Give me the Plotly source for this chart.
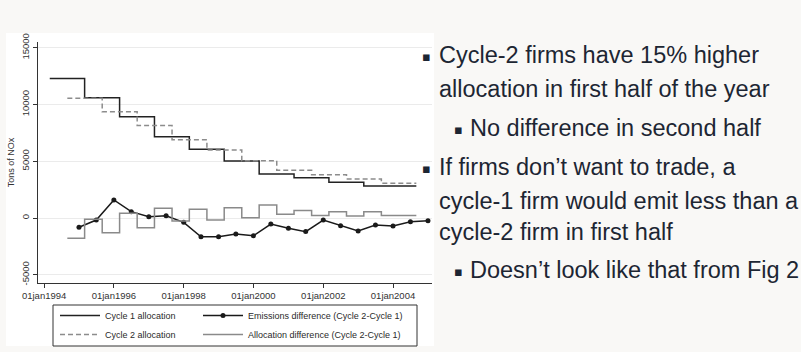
import plotly.graph_objects as go

# ---------------- data ----------------
c1_dates = ["1994-03-01", "1995-03-01", "1996-03-01", "1997-03-01", "1998-03-01",
            "1999-03-01", "2000-03-01", "2001-03-01", "2002-03-01", "2003-03-01", "2004-09-01"]
c1_alloc = [12300, 10600, 8930, 7160, 6050, 5020, 3880, 3550, 3140, 2820, 2820]

c2_dates = ["1994-09-01", "1995-09-01", "1996-09-01", "1997-09-01", "1998-09-01",
            "1999-09-01", "2000-09-01", "2001-09-01", "2002-09-01", "2003-09-01", "2004-09-01"]
c2_alloc = [10550, 9370, 8150, 6900, 6000, 5050, 4200, 3820, 3440, 3060, 3060]

ad_dates = ["1994-09-01", "1995-03-01", "1995-09-01", "1996-03-01", "1996-09-01",
            "1997-03-01", "1997-09-01", "1998-03-01", "1998-09-01", "1999-03-01",
            "1999-09-01", "2000-03-01", "2000-09-01", "2001-03-01", "2001-09-01",
            "2002-03-01", "2002-09-01", "2003-03-01", "2003-09-01", "2004-09-01"]
alloc_diff = [-1790, -100, -1290, 410, -850, 850, -260, 770, -180, 910,
              30, 1150, 320, 650, 210, 560, 180, 560, 210, 210]

em_dates = ["1995-01-01", "1995-07-01", "1996-01-01", "1996-07-01", "1997-01-01",
            "1997-07-01", "1998-01-01", "1998-07-01", "1999-01-01", "1999-07-01",
            "2000-01-01", "2000-07-01", "2001-01-01", "2001-07-01", "2002-01-01",
            "2002-07-01", "2003-01-01", "2003-07-01", "2004-01-01", "2004-07-01",
            "2005-01-01"]
em_diff = [-820, -180, 1590, 560, 110, 200, -380, -1650, -1650, -1410,
           -1560, -530, -910, -1200, -180, -680, -1150, -620, -700, -330, -240]

x_tickvals = ["1994-01-01", "1996-01-01", "1998-01-01", "2000-01-01", "2002-01-01", "2004-01-01"]
x_ticktext = ["01jan1994", "01jan1996", "01jan1998", "01jan2000", "01jan2002", "01jan2004"]
y_tickvals = [-5000, 0, 5000, 10000, 15000]
y_ticktext = ["-5000", "0", "5000", "10000", "15000"]

bullets = [
    (1, ["Cycle-2 firms have 15% higher", "allocation in first half of the year"]),
    (2, ["No difference in second half"]),
    (1, ["If firms don\u2019t want to trade, a", "cycle-1 firm would emit less than a",
         "cycle-2 firm in first half"]),
    (2, ["Doesn\u2019t look like that from Fig 2"]),
]

# ---------------- layout helpers ----------------
W, H = 801, 352
L, R, T, B = 38, 432, 42, 283

def px_x(px):
    return (px - L) / (R - L)

def px_y(py):
    return (B - py) / (B - T)

FONT = "Liberation Sans, Arial, Helvetica, sans-serif"
TXT = "#1d2633"

fig = go.Figure()
fig.add_trace(go.Scatter(x=c1_dates, y=c1_alloc, mode="lines", line_shape="hv",
                         line=dict(color="#222222", width=1.5),
                         name="Cycle 1 allocation", legend="legend"))
fig.add_trace(go.Scatter(x=c2_dates, y=c2_alloc, mode="lines", line_shape="hv",
                         line=dict(color="#8c8c8c", width=1.5, dash="5px,3px"),
                         name="Cycle 2 allocation", legend="legend"))
fig.add_trace(go.Scatter(x=em_dates, y=em_diff, mode="lines+markers",
                         line=dict(color="#1a1a1a", width=1.5),
                         marker=dict(color="#1a1a1a", size=5),
                         name="Emissions difference (Cycle 2-Cycle 1)", legend="legend2"))
fig.add_trace(go.Scatter(x=ad_dates, y=alloc_diff, mode="lines", line_shape="hv",
                         line=dict(color="#8a8a8a", width=1.5),
                         name="Allocation difference (Cycle 2-Cycle 1)", legend="legend2"))

shapes = [
    dict(type="rect", xref="paper", yref="paper", x0=px_x(6), x1=px_x(434),
         y0=px_y(346), y1=px_y(33), fillcolor="white", line=dict(width=0), layer="below"),
    dict(type="rect", xref="paper", yref="paper", x0=px_x(53), x1=px_x(417),
         y0=px_y(346), y1=px_y(305), fillcolor="rgba(0,0,0,0)",
         line=dict(color="#333333", width=1), layer="above"),
]

annotations = []
line_y = [55, 89, 128, 167, 201, 232, 270]
i = 0
for level, lines in bullets:
    bx = 426 if level == 1 else 458
    tx = 437 if level == 1 else 468
    annotations.append(dict(text="\u25aa", xref="paper", yref="paper",
                            x=px_x(bx), y=px_y(line_y[i] + 1), xanchor="center", yanchor="middle",
                            showarrow=False, font=dict(family="DejaVu Sans", size=13, color=TXT)))
    for ln in lines:
        annotations.append(dict(text=ln, xref="paper", yref="paper",
                                x=px_x(tx), y=px_y(line_y[i]), xanchor="left", yanchor="middle",
                                showarrow=False, font=dict(family=FONT, size=23.5, color=TXT)))
        i += 1

fig.update_layout(
    width=W, height=H,
    margin=dict(l=L, r=W - R, t=T, b=H - B, pad=0, autoexpand=False),
    paper_bgcolor="#f9f8f6",
    plot_bgcolor="rgba(0,0,0,0)",
    font=dict(family=FONT, size=9, color="#333333"),
    shapes=shapes,
    annotations=annotations,
    legend=dict(x=px_x(55), y=px_y(301), xanchor="left", yanchor="top",
                bgcolor="rgba(0,0,0,0)", font=dict(size=9, color="#2a2a2a"),
                tracegroupgap=0, itemwidth=40),
    legend2=dict(x=px_x(198), y=px_y(301), xanchor="left", yanchor="top",
                 bgcolor="rgba(0,0,0,0)", font=dict(size=9, color="#2a2a2a"),
                 tracegroupgap=0, itemwidth=40),
    showlegend=True,
)
fig.update_xaxes(type="date", range=["1993-10-29", "2005-02-12"],
                 tickvals=x_tickvals, ticktext=x_ticktext,
                 showline=True, linecolor="#333333", linewidth=1,
                 ticks="outside", ticklen=4, tickcolor="#333333",
                 showgrid=False, zeroline=False,
                 tickfont=dict(size=9.5, color="#333333"))
fig.update_yaxes(range=[-5727, 15507], tickvals=y_tickvals, ticktext=y_ticktext,
                 tickangle=-90,
                 showline=True, linecolor="#333333", linewidth=1,
                 ticks="outside", ticklen=4, tickcolor="#333333",
                 showgrid=True, gridcolor="#ebebeb", gridwidth=1, zeroline=False,
                 tickfont=dict(size=9.5, color="#333333"),
                 title=dict(text="Tons of NOx", font=dict(size=9, color="#333333"), standoff=4))

fig.write_html("out.html")
